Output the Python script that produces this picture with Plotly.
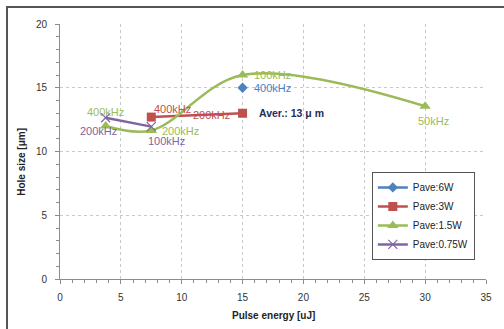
import plotly.graph_objects as go

# ---- data ----
x_6w = [15]
y_6w = [15.0]
lab_6w = ["400kHz"]

x_3w = [7.5, 15]
y_3w = [12.7, 13.0]
lab_3w = ["400kHz", "200kHz"]

x_15w = [3.75, 7.5, 15, 30]
y_15w = [12.0, 11.65, 16.0, 13.55]
lab_15w = ["400kHz", "200kHz", "100kHz", "50kHz"]

x_075w = [3.75, 7.5]
y_075w = [12.65, 11.95]
lab_075w = ["200kHz", "100kHz"]

x_ticks = [0, 5, 10, 15, 20, 25, 30, 35]
y_ticks = [0, 5, 10, 15, 20]

avg_text = "Aver.: 13 μ m"
avg_x, avg_y = 19.0, 13.0

BLUE = "#4F81BD"
RED = "#C0504D"
GREEN = "#9BBB59"
PURPLE = "#8064A2"

fig = go.Figure()
fig.add_trace(go.Scatter(x=x_6w, y=y_6w, mode="lines+markers", name="Pave:6W",
                         line=dict(color=BLUE, width=2.5),
                         marker=dict(symbol="diamond", size=8, color=BLUE)))
fig.add_trace(go.Scatter(x=x_3w, y=y_3w, mode="lines+markers", name="Pave:3W",
                         line=dict(color=RED, width=2.5),
                         marker=dict(symbol="square", size=9, color=RED)))
fig.add_trace(go.Scatter(x=x_15w, y=y_15w, mode="lines+markers", name="Pave:1.5W",
                         line=dict(color=GREEN, width=2.5, shape="spline", smoothing=1.0),
                         marker=dict(symbol="triangle-up", size=10, color=GREEN)))
fig.add_trace(go.Scatter(x=x_075w, y=y_075w, mode="lines+markers", name="Pave:0.75W",
                         line=dict(color=PURPLE, width=2.5),
                         marker=dict(symbol="x-thin-open", size=9,
                                     line=dict(color=PURPLE, width=1.2), color=PURPLE)))

annotations = []
def lab(x, y, t, c, dx, dy):
    annotations.append(dict(x=x, y=y, xref="x", yref="y", text=t, showarrow=False,
                            xshift=dx, yshift=-dy,
                            font=dict(family="Liberation Sans", size=11, color=c)))

lab(x_6w[0], y_6w[0], lab_6w[0], BLUE, 30, 0)
lab(x_3w[0], y_3w[0], lab_3w[0], RED, 21, -8)
lab(x_3w[1], y_3w[1], lab_3w[1], RED, -31, 2)
lab(x_15w[0], y_15w[0], lab_15w[0], GREEN, 0, -14)
lab(x_15w[1], y_15w[1], lab_15w[1], GREEN, 29, 1)
lab(x_15w[2], y_15w[2], lab_15w[2], GREEN, 30, 0)
lab(x_15w[3], y_15w[3], lab_15w[3], GREEN, 8, 15)
lab(x_075w[0], y_075w[0], lab_075w[0], PURPLE, -7, 13)
lab(x_075w[1], y_075w[1], lab_075w[1], PURPLE, 15, 14)

annotations.append(dict(x=avg_x, y=avg_y, xref="x", yref="y", text="<b>" + avg_text + "</b>",
                        showarrow=False,
                        font=dict(family="Liberation Sans", size=10.5, color="#1F2D5A")))

# axis titles
annotations.append(dict(x=0.5, y=-0.143, xref="paper", yref="paper",
                        text="<b>Pulse energy [uJ]</b>", showarrow=False,
                        xanchor="center", yanchor="middle",
                        font=dict(family="Liberation Sans", size=10, color="#222")))
annotations.append(dict(x=-0.089, y=0.46, xref="paper", yref="paper",
                        text="<b>Hole size [μm]</b>", showarrow=False, textangle=-90,
                        xanchor="center", yanchor="middle",
                        font=dict(family="Liberation Sans", size=10, color="#222")))
# clipped panel label
annotations.append(dict(x=0.48, y=1.125, xref="paper", yref="paper", text="(c)",
                        showarrow=False, xanchor="center", yanchor="middle",
                        font=dict(family="Liberation Sans", size=14, color="#444")))
# outer frame of the figure panel (only top and left edges fall inside the page)
annotations.append(dict(x=-0.127, y=1.0706, xref="paper", yref="paper", text=" ",
                        showarrow=False, xanchor="left", yanchor="top",
                        width=700, height=500, borderpad=0,
                        bordercolor="#555", borderwidth=2))

axis_common = dict(showgrid=True, gridcolor="#c8c8c8", griddash="dot", gridwidth=1,
                   showline=True, linecolor="#8c8c8c", linewidth=1,
                   ticks="outside", ticklen=4, tickcolor="#8c8c8c",
                   tickfont=dict(family="Liberation Sans", size=10, color="#333"),
                   zeroline=False)

fig.update_xaxes(range=[0, 35], tickvals=x_ticks, ticktext=[str(v) for v in x_ticks],
                 minor=dict(dtick=1, ticks="outside", ticklen=3, tickcolor="#8c8c8c", showgrid=False),
                 ticklabelstandoff=5, **axis_common)
fig.update_yaxes(range=[0, 20], tickvals=y_ticks, ticktext=[str(v) for v in y_ticks],
                 minor=dict(dtick=1, ticks="outside", ticklen=3, tickcolor="#8c8c8c", showgrid=False),
                 ticklabelstandoff=6, **axis_common)

fig.update_layout(
    width=504, height=329,
    margin=dict(l=60, r=18, t=24, b=50),
    paper_bgcolor="white", plot_bgcolor="white",
    showlegend=True,
    legend=dict(x=0.732, y=0.42, xanchor="left", yanchor="top",
                bordercolor="#555", borderwidth=1, bgcolor="white",
                font=dict(family="Liberation Sans", size=10, color="#222"),
                itemwidth=30, tracegroupgap=0),
    annotations=annotations,
)

fig.write_html("out.html", config={"displayModeBar": False},
               post_script="document.body.style.margin='0';document.body.style.padding='0';")
